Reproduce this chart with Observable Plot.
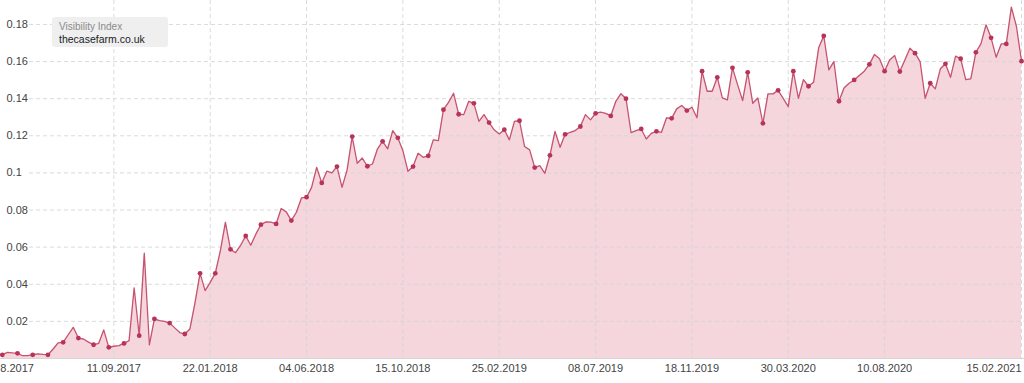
<!DOCTYPE html>
<html>
<head>
<meta charset="utf-8">
<script src="https://cdn.jsdelivr.net/npm/d3@7"></script>
<script src="https://cdn.jsdelivr.net/npm/@observablehq/plot@0.6"></script>
<style>
  html, body { margin: 0; padding: 0; background: #fff; }
  #wrap { position: relative; width: 1024px; height: 383px; overflow: hidden; font-family: "Liberation Sans", Arial, sans-serif; }
  #legend { position: absolute; left: 52px; top: 17px; width: 116px; height: 30px; background: #efefef; border-radius: 3px; box-sizing: border-box; padding: 4px 0 0 7px; }
  #legend .t1 { font-size: 10px; color: #8a8a8a; line-height: 12px; }
  #legend .t2 { font-size: 10.5px; color: #222; line-height: 13px; }
</style>
</head>
<body>
<div id="wrap">
  <div id="chart"></div>
  <div id="legend"><div class="t1">Visibility Index</div><div class="t2">thecasefarm.co.uk</div></div>
</div>
<script>
// Weekly visibility index values (Mondays), first week 10.04.2017, last week 15.02.2021
const firstWeek = "2017-04-10";
const visibility = [
  0.0020, 0.0033, 0.0030, 0.0028, 0.0015, 0.0015, 0.0020, 0.0025, 0.0022, 0.0020,
  0.0050, 0.0084, 0.0087, 0.0128, 0.0168, 0.0110, 0.0105, 0.0088, 0.0074, 0.0081,
  0.0154, 0.0060, 0.0066, 0.0069, 0.0081, 0.0096, 0.0380, 0.0123, 0.0567, 0.0073,
  0.0213, 0.0204, 0.0200, 0.0191, 0.0165, 0.0140, 0.0132, 0.0159, 0.0300, 0.0459,
  0.0366, 0.0410, 0.0459, 0.0580, 0.0734, 0.0588, 0.0570, 0.0610, 0.0660, 0.0610,
  0.0670, 0.0721, 0.0736, 0.0735, 0.0725, 0.0808, 0.0790, 0.0743, 0.0788, 0.0865,
  0.0869, 0.0922, 0.1030, 0.0946, 0.1009, 0.1000, 0.1034, 0.0922, 0.1016, 0.1196,
  0.1052, 0.1080, 0.1036, 0.1048, 0.1130, 0.1170, 0.1130, 0.1228, 0.1189, 0.1120,
  0.1009, 0.1034, 0.1106, 0.1084, 0.1092, 0.1178, 0.1174, 0.1341, 0.1380, 0.1429,
  0.1316, 0.1314, 0.1386, 0.1375, 0.1278, 0.1314, 0.1271, 0.1232, 0.1210, 0.1233,
  0.1178, 0.1278, 0.1281, 0.1142, 0.1124, 0.1029, 0.1039, 0.0998, 0.1095, 0.1224,
  0.1138, 0.1208, 0.1219, 0.1228, 0.1250, 0.1314, 0.1286, 0.1321, 0.1327, 0.1321,
  0.1307, 0.1386, 0.1427, 0.1400, 0.1217, 0.1228, 0.1237, 0.1183, 0.1213, 0.1224,
  0.1219, 0.1297, 0.1294, 0.1345, 0.1363, 0.1336, 0.1354, 0.1297, 0.1548, 0.1440,
  0.1440, 0.1515, 0.1404, 0.1393, 0.1566, 0.1476, 0.1390, 0.1542, 0.1375, 0.1404,
  0.1267, 0.1426, 0.1426, 0.1445, 0.1402, 0.1357, 0.1548, 0.1402, 0.1503, 0.1467,
  0.1488, 0.1674, 0.1738, 0.1555, 0.1600, 0.1386, 0.1458, 0.1483, 0.1501, 0.1525,
  0.1548, 0.1585, 0.1638, 0.1615, 0.1548, 0.1609, 0.1632, 0.1546, 0.1609, 0.1672,
  0.1645, 0.1600, 0.1402, 0.1483, 0.1453, 0.1561, 0.1588, 0.1515, 0.1629, 0.1615,
  0.1503, 0.1507, 0.1650, 0.1695, 0.1798, 0.1728, 0.1623, 0.1695, 0.1695, 0.1893,
  0.1789, 0.1602
];

// X axis tick dates and labels
const xTickDates = ["2017-09-11", "2018-01-22", "2018-06-04", "2018-10-15", "2019-02-25",
                    "2019-07-08", "2019-11-18", "2020-03-30", "2020-08-10"];
const xTickLabels = ["11.09.2017", "22.01.2018", "04.06.2018", "15.10.2018", "25.02.2019",
                     "08.07.2019", "18.11.2019", "30.03.2020", "10.08.2020"];
const xFirstLabel = "8.2017";          // clipped at the left edge in the original
const xLastDate = "2021-02-15";
const xLastLabel = "15.02.2021";

// Y axis ticks
const yTicks = [0.02, 0.04, 0.06, 0.08, 0.1, 0.12, 0.14, 0.16, 0.18];
const yTickLabels = ["0.02", "0.04", "0.06", "0.08", "0.1", "0.12", "0.14", "0.16", "0.18"];

const start = new Date(firstWeek + "T00:00:00Z");
const data = visibility.map((v, i) => ({date: d3.utcDay.offset(start, 7 * i), value: v, i}));
const xTicks = xTickDates.map(s => new Date(s + "T00:00:00Z"));
const lastDate = new Date(xLastDate + "T00:00:00Z");
const yTickData = yTicks.map((v, i) => ({v, label: yTickLabels[i]}));
const xTickData = xTicks.map((d, i) => ({d, label: xTickLabels[i]}));

const grid = "#d4d4d4";
const chart = Plot.plot({
  width: 1024,
  height: 383,
  marginLeft: 0,
  marginRight: 0,
  marginTop: 0,
  marginBottom: 25,
  style: {fontFamily: "'Liberation Sans', Arial, sans-serif", fontSize: "11px", color: "#333", background: "#fff"},
  x: {type: "utc", domain: [new Date("2017-04-07T12:00:00Z"), new Date("2021-02-19T03:00:00Z")], axis: null},
  y: {domain: [0, 0.1929], axis: null},
  marks: [
    Plot.areaY(data, {x: "date", y: "value", fill: "#f5d6dd"}),
    Plot.ruleY(yTicks, {stroke: grid, strokeDasharray: "4,3", strokeOpacity: 0.85, insetLeft: 29}),
    Plot.ruleX([...xTicks, lastDate], {stroke: grid, strokeDasharray: "4,3", strokeOpacity: 0.85}),
    Plot.ruleY([0], {stroke: "#d6d6d6"}),
    Plot.lineY(data, {x: "date", y: "value", stroke: "#c6536f", strokeWidth: 1.3}),
    Plot.dot(data.filter(d => d.i % 3 === 0), {x: "date", y: "value", r: 2.4, fill: "#b8335a"}),
    Plot.text(yTickData, {y: "v", text: "label", frameAnchor: "left", textAnchor: "start", dx: 6, fill: "#444"}),
    Plot.text(xTickData, {x: "d", text: "label", frameAnchor: "bottom", dy: 13, fill: "#444"}),
    Plot.text([start], {x: d => d, text: () => xFirstLabel, frameAnchor: "bottom", dy: 13, textAnchor: "start", dx: -2, fill: "#444"}),
    Plot.text([lastDate], {x: d => d, text: () => xLastLabel, frameAnchor: "bottom", dy: 13, textAnchor: "end", fill: "#444"})
  ]
});
document.getElementById("chart").appendChild(chart);
</script>
</body>
</html>
